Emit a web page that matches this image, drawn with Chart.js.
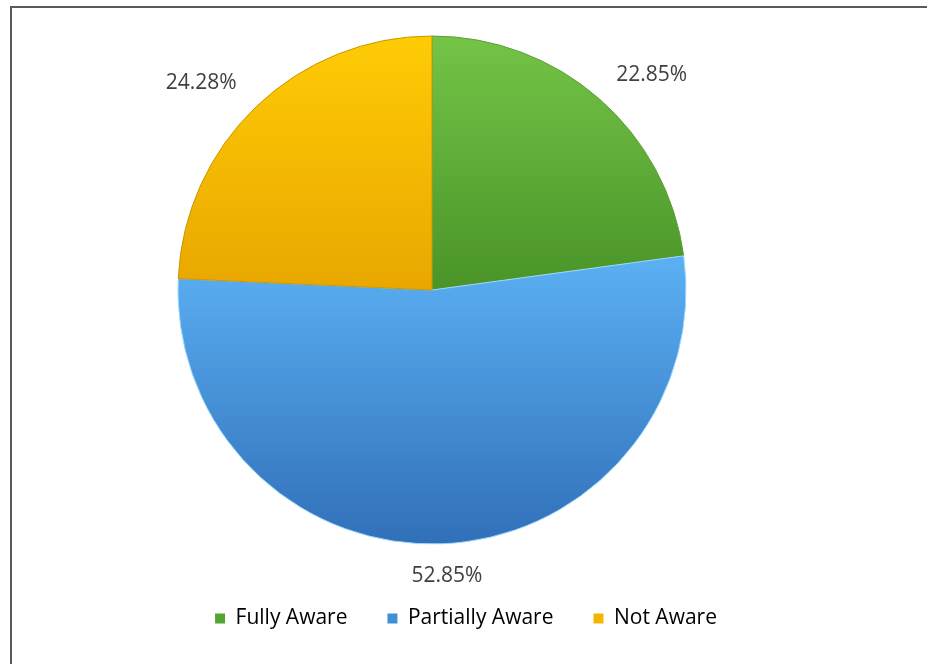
<!DOCTYPE html>
<html>
<head>
<meta charset="utf-8">
<script src="https://cdn.jsdelivr.net/npm/chart.js@4.4.1/dist/chart.umd.min.js"></script>
<style>
  html, body { margin: 0; padding: 0; background: #fff; overflow: hidden; }
  #wrap { position: relative; width: 927px; height: 664px; }
  #frame {
    position: absolute; left: 10px; top: 6px; width: 1000px; height: 700px;
    border-top: 2px solid #5a5a5a; border-left: 2px solid #5a5a5a;
    pointer-events: none;
  }
</style>
</head>
<body>
<div id="wrap">
  <canvas id="awarenessChart" width="927" height="664"></canvas>
  <div id="frame"></div>
</div>
<script>
const categories = ['Fully Aware', 'Partially Aware', 'Not Aware'];
const shares = [22.85, 52.85, 24.28];

// top / bottom shade of each slice, plus the flat legend swatch
const sliceTop = ['#74c447', '#5aaef2', '#ffcb05'];
const sliceBottom = ['#4a9428', '#3170b8', '#e9a700'];
const swatch = ['#52a534', '#3f8fd9', '#f2b600'];
const edge = ['#5e9f38', '#9ad8ff', '#c89600'];

const PIE_R = 254;

function sliceFill(ctx) {
  const chart = ctx.chart;
  const a = chart.chartArea;
  if (!a) return sliceTop[ctx.dataIndex];
  const cy = (a.top + a.bottom) / 2;
  const g = chart.ctx.createLinearGradient(0, cy - PIE_R, 0, cy + PIE_R);
  const i = ctx.dataIndex;
  if (i === 1) {
    g.addColorStop(0.45, sliceTop[i]);
    g.addColorStop(1, sliceBottom[i]);
  } else {
    g.addColorStop(0, sliceTop[i]);
    g.addColorStop(0.5, sliceBottom[i]);
  }
  return g;
}

// percentage labels outside the slices
const outsideLabels = {
  id: 'outsideLabels',
  afterDatasetsDraw(chart) {
    const ctx = chart.ctx;
    const meta = chart.getDatasetMeta(0);
    ctx.save();
    ctx.font = '21px "Open Sans"';
    ctx.fillStyle = '#404040';
    ctx.textAlign = 'center';
    ctx.textBaseline = 'middle';
    meta.data.forEach((arc, i) => {
      const p = arc.getProps(['x', 'y', 'startAngle', 'endAngle', 'outerRadius'], true);
      const mid = (p.startAngle + p.endAngle) / 2;
      const x = p.x + Math.cos(mid) * (p.outerRadius + 80);
      const y = p.y + Math.sin(mid) * (p.outerRadius + 32);
      ctx.fillText(shares[i].toFixed(2) + '%', x, y);
    });
    ctx.restore();
  }
};

// the legend in the original sits to the right of the pie's centre
const legendShift = {
  id: 'legendShift',
  afterLayout(chart) {
    chart.legend.left += 34;
    chart.legend.right += 34;
  }
};

const ctxAware = document.getElementById('awarenessChart').getContext('2d');
new Chart(ctxAware, {
  type: 'pie',
  data: {
    labels: categories,
    datasets: [{
      data: shares,
      backgroundColor: sliceFill,
      borderColor: edge,
      borderWidth: 1,
      radius: PIE_R,
      clip: false
    }]
  },
  options: {
    responsive: false,
    animation: false,
    layout: { padding: { top: 12, left: 0, right: 63, bottom: 25 } },
    plugins: {
      tooltip: { enabled: false },
      legend: {
        position: 'bottom',
        labels: {
          boxWidth: 10,
          boxHeight: 10,
          padding: 40,
          color: '#595959',
          font: { family: '"Open Sans"', size: 21 },
          generateLabels(chart) {
            return categories.map((c, i) => ({
              text: c,
              fillStyle: swatch[i],
              strokeStyle: swatch[i],
              lineWidth: 0,
              hidden: false,
              index: i
            }));
          }
        }
      }
    }
  },
  plugins: [outsideLabels, legendShift]
});
</script>
</body>
</html>
